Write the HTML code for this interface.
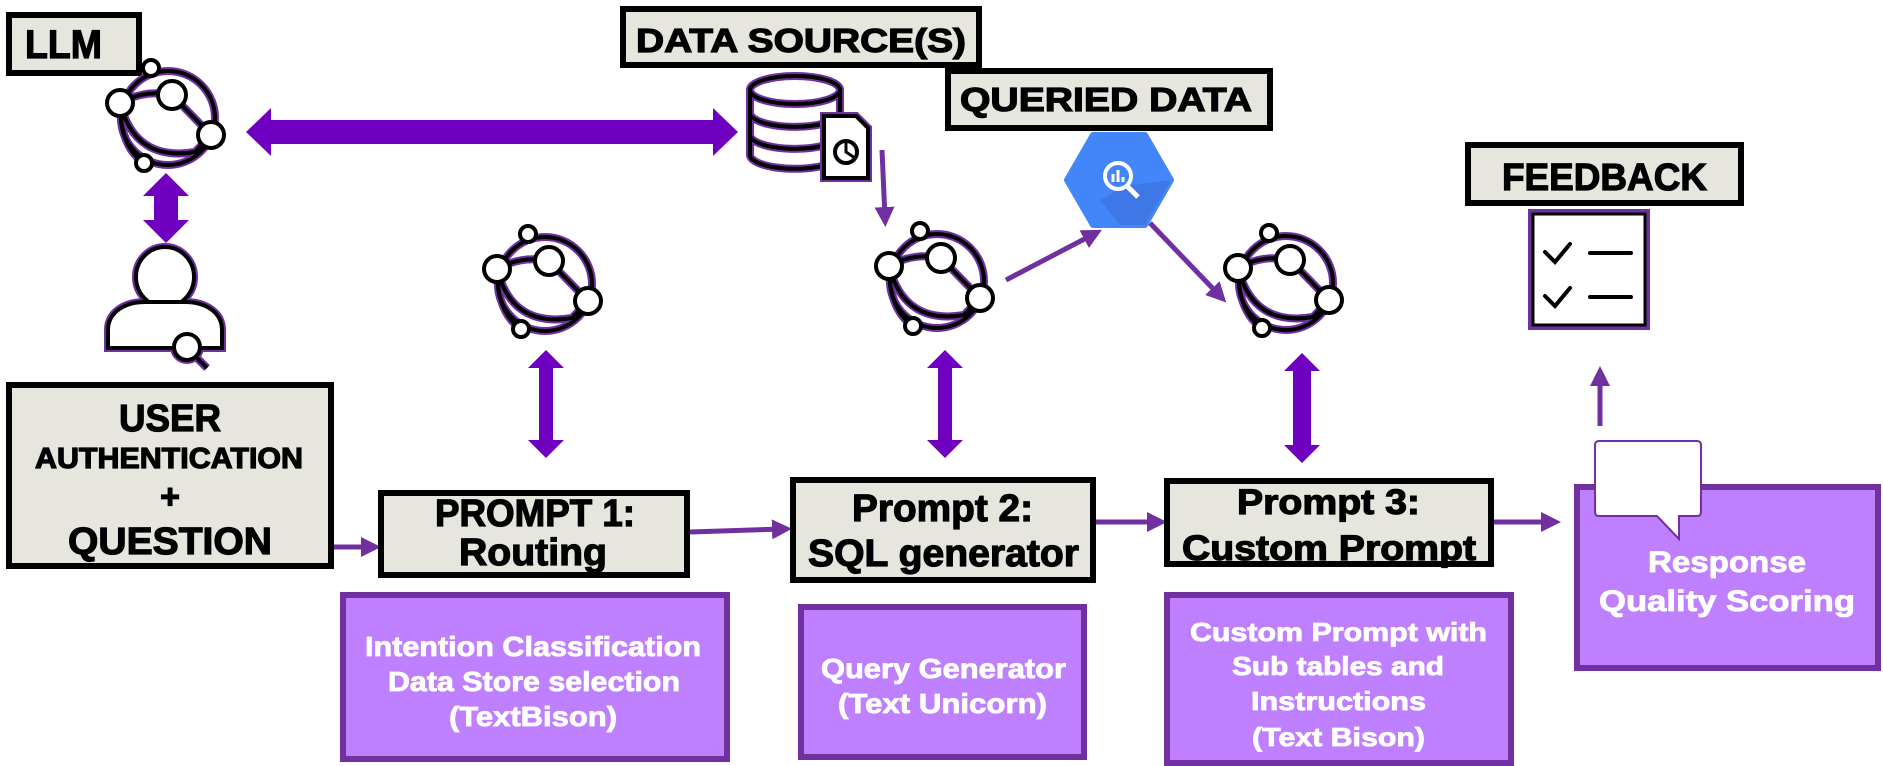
<!DOCTYPE html>
<html><head><meta charset="utf-8"><style>
html,body{margin:0;padding:0;background:#fff;}
svg{display:block;}
.c{font-family:"Liberation Sans",sans-serif;font-weight:bold;}
.k{stroke:#000;stroke-width:1.2;}
.w{stroke:#fff;stroke-width:0.8;}
</style></head><body>
<svg width="1883" height="766" viewBox="0 0 1883 766" xmlns="http://www.w3.org/2000/svg">
<defs>
<marker id="ah" markerWidth="4" markerHeight="4" refX="2.2" refY="2" orient="auto" markerUnits="strokeWidth">
<path d="M0,0 L4,2 L0,4 Z" fill="#7030a0"/></marker>
<g id="llm" fill="#fff" stroke-linecap="round">
<g stroke="#7030a0" stroke-width="8" fill="none">
<circle cx="3" cy="1" r="47"/>
<path d="M-45,-14 Q-20,-28 7,-22"/><path d="M7,-22 L46,18"/>
<path d="M-45,-14 Q-45,30 -21,46"/><path d="M-45,-14 Q-30,45 30,35 L46,18"/>
</g>
<g stroke="#000" stroke-width="4" fill="none">
<circle cx="3" cy="1" r="47"/>
<path d="M-45,-14 Q-20,-28 7,-22"/><path d="M7,-22 L46,18"/>
<path d="M-45,-14 Q-45,30 -21,46"/><path d="M-45,-14 Q-30,45 30,35 L46,18"/>
</g>
<g stroke="#000" stroke-width="4" fill="#fff">
<circle cx="-14" cy="-49" r="8"/><circle cx="-45" cy="-14" r="13"/>
<circle cx="7" cy="-22" r="14"/><circle cx="46" cy="18" r="13"/><circle cx="-21" cy="46" r="8"/>
</g>
</g>
</defs>

<rect x="9" y="15" width="130" height="58" fill="#e6e6df" stroke="#000" stroke-width="6"/>
<text class="c k" x="25" y="58" font-size="40" textLength="77" lengthAdjust="spacingAndGlyphs">LLM</text>

<rect x="623" y="9" width="356" height="56" fill="#e6e6df" stroke="#000" stroke-width="6"/>
<text class="c k" x="636" y="52" font-size="33" textLength="330" lengthAdjust="spacingAndGlyphs">DATA SOURCE(S)</text>

<rect x="948" y="71" width="322" height="57" fill="#e6e6df" stroke="#000" stroke-width="6"/>
<text class="c k" x="960" y="111" font-size="33" textLength="292" lengthAdjust="spacingAndGlyphs">QUERIED DATA</text>

<use href="#llm" transform="translate(165,117)"/>
<use href="#llm" transform="translate(542,283)"/>
<use href="#llm" transform="translate(934,280)"/>
<use href="#llm" transform="translate(1283,282)"/>

<polygon points="246,132 271,108 271,120 713,120 713,108 738,132 713,156 713,144 271,144 271,156" fill="#7000c0"/>

<polygon points="166,173 189,196 178,196 178,220 189,220 166,243 143,220 154,220 154,196 143,196" fill="#7000c0"/>
<polygon points="546,350 564,368 553,368 553,440 564,440 546,458 528,440 539,440 539,368 528,368" fill="#7000c0"/>
<polygon points="945,350 963,368 952,368 952,440 963,440 945,458 927,440 938,440 938,368 927,368" fill="#7000c0"/>
<polygon points="1302,353 1320,371 1311,371 1311,445 1320,445 1302,463 1284,445 1293,445 1293,371 1284,371" fill="#7000c0"/>

<g stroke="#7030a0" stroke-width="8" fill="none">
<ellipse cx="165" cy="277" rx="29" ry="30"/>
<path d="M108,348 V330 C108,312 125,302 145,302 L185,302 C205,302 222,312 222,330 V348 Z"/>
<circle cx="187" cy="347" r="13"/><path d="M196,357 L207,368"/>
</g>
<g stroke="#000" stroke-width="4" fill="#fff">
<ellipse cx="165" cy="277" rx="29" ry="30"/>
<path d="M108,348 V330 C108,312 125,302 145,302 L185,302 C205,302 222,312 222,330 V348 Z"/>
<circle cx="187" cy="347" r="13"/><path d="M196,357 L207,368" fill="none"/>
</g>

<g fill="none" stroke-linecap="round">
<g stroke="#7030a0" stroke-width="8">
<ellipse cx="795" cy="90" rx="45" ry="14"/>
<path d="M750,90 V155 A45,14 0 0 0 822,166"/><path d="M840,90 V112"/>
<path d="M750,112 A45,14 0 0 0 822,124"/><path d="M750,134 A45,14 0 0 0 822,146"/>
</g>
<g stroke="#000" stroke-width="4">
<ellipse cx="795" cy="90" rx="45" ry="14"/>
<path d="M750,90 V155 A45,14 0 0 0 822,166"/><path d="M840,90 V112"/>
<path d="M750,112 A45,14 0 0 0 822,124"/><path d="M750,134 A45,14 0 0 0 822,146"/>
</g>
<path d="M824,116 H856 L868,128 V178 H824 Z" fill="#fff" stroke="#7030a0" stroke-width="8"/>
<path d="M824,116 H856 L868,128 V178 H824 Z" fill="#fff" stroke="#000" stroke-width="4"/>
<circle cx="846" cy="152" r="11" stroke="#000" stroke-width="4"/>
<path d="M846,141 V152 L855,158" stroke="#000" stroke-width="3"/>
</g>

<polygon points="1067,180 1093,135 1145,135 1171,180 1145,225 1093,225" fill="#4386fa" stroke="#4386fa" stroke-width="6" stroke-linejoin="round"/>
<polygon points="1125,186 1171,180 1145,225 1120,225 1100,200" fill="#3a6fd8" opacity="0.6"/>
<circle cx="1118" cy="176" r="13" fill="none" stroke="#fff" stroke-width="4"/>
<path d="M1127,186 L1138,197" stroke="#fff" stroke-width="5"/>
<path d="M1113,174 V182 M1118,170 V182 M1123,177 V182" stroke="#fff" stroke-width="3"/>

<g stroke="#7030a0" stroke-width="5" fill="none" marker-end="url(#ah)">
<path d="M882,150 L885,218"/>
<path d="M1006,280 L1094,234"/>
<path d="M1150,223 L1220,296"/>
<path d="M334,547 L372,547"/>
<path d="M690,532 L783,529"/>
<path d="M1095,522 L1158,522"/>
<path d="M1494,522 L1552,522"/>
<path d="M1600,426 L1600,375"/>
</g>

<rect x="9" y="385" width="322" height="181" fill="#e6e6df" stroke="#000" stroke-width="6"/>
<text class="c k" x="119" y="431" font-size="38" textLength="102" lengthAdjust="spacingAndGlyphs">USER</text>
<text class="c k" x="35" y="468" font-size="29" textLength="268" lengthAdjust="spacingAndGlyphs">AUTHENTICATION</text>
<text class="c k" x="170" y="508" font-size="34" text-anchor="middle">+</text>
<text class="c k" x="68" y="554" font-size="38" textLength="204" lengthAdjust="spacingAndGlyphs">QUESTION</text>

<rect x="381" y="493" width="306" height="82" fill="#e6e6df" stroke="#000" stroke-width="6"/>
<text class="c k" x="435" y="526" font-size="38" textLength="200" lengthAdjust="spacingAndGlyphs">PROMPT 1:</text>
<text class="c k" x="459" y="565" font-size="38" textLength="148" lengthAdjust="spacingAndGlyphs">Routing</text>

<rect x="793" y="480" width="300" height="100" fill="#e6e6df" stroke="#000" stroke-width="6"/>
<text class="c k" x="852" y="521" font-size="38" textLength="181" lengthAdjust="spacingAndGlyphs">Prompt 2:</text>
<text class="c k" x="808" y="566" font-size="38" textLength="271" lengthAdjust="spacingAndGlyphs">SQL generator</text>

<rect x="1167" y="481" width="324" height="83" fill="#e6e6df" stroke="#000" stroke-width="6"/>
<text class="c k" x="1237" y="514" font-size="35" textLength="183" lengthAdjust="spacingAndGlyphs">Prompt 3:</text>
<text class="c k" x="1182" y="560" font-size="35" textLength="294" lengthAdjust="spacingAndGlyphs">Custom Prompt</text>

<g fill="#bf80ff" stroke="#7030a0" stroke-width="6">
<rect x="343" y="595" width="384" height="164"/>
<rect x="801" y="607" width="283" height="150"/>
<rect x="1167" y="595" width="344" height="168"/>
<rect x="1577" y="487" width="301" height="181"/>
</g>
<g class="c w" fill="#fff">
<text x="365" y="656" font-size="28" textLength="336" lengthAdjust="spacingAndGlyphs">Intention Classification</text>
<text x="388" y="691" font-size="28" textLength="292" lengthAdjust="spacingAndGlyphs">Data Store selection</text>
<text x="449" y="726" font-size="28" textLength="168" lengthAdjust="spacingAndGlyphs">(TextBison)</text>
<text x="821" y="678" font-size="28" textLength="245" lengthAdjust="spacingAndGlyphs">Query Generator</text>
<text x="838" y="713" font-size="28" textLength="209" lengthAdjust="spacingAndGlyphs">(Text Unicorn)</text>
<text x="1190" y="641" font-size="26" textLength="297" lengthAdjust="spacingAndGlyphs">Custom Prompt with</text>
<text x="1232" y="675" font-size="26" textLength="212" lengthAdjust="spacingAndGlyphs">Sub tables and</text>
<text x="1251" y="710" font-size="26" textLength="175" lengthAdjust="spacingAndGlyphs">Instructions</text>
<text x="1252" y="746" font-size="26" textLength="173" lengthAdjust="spacingAndGlyphs">(Text Bison)</text>
<text x="1648" y="572" font-size="30" textLength="158" lengthAdjust="spacingAndGlyphs">Response</text>
<text x="1599" y="611" font-size="30" textLength="256" lengthAdjust="spacingAndGlyphs">Quality Scoring</text>
</g>

<path d="M1599,441 H1697 Q1701,441 1701,445 V512 Q1701,516 1697,516 H1679 V539 L1657,516 H1599 Q1595,516 1595,512 V445 Q1595,441 1599,441 Z" fill="#fff" stroke="#7030a0" stroke-width="2"/>

<rect x="1468" y="145" width="273" height="58" fill="#e6e6df" stroke="#000" stroke-width="6"/>
<text class="c k" x="1502" y="190" font-size="38" textLength="205" lengthAdjust="spacingAndGlyphs">FEEDBACK</text>
<rect x="1531" y="212" width="116" height="115" fill="#fff" stroke="#7030a0" stroke-width="6"/>
<rect x="1533" y="214" width="112" height="111" fill="#fff" stroke="#000" stroke-width="3"/>
<g stroke="#000" stroke-width="4" fill="none" stroke-linecap="round">
<path d="M1545,252 L1555,262 L1570,244"/><path d="M1590,253 H1631"/>
<path d="M1545,296 L1555,306 L1570,288"/><path d="M1590,297 H1631"/>
</g>
</svg>
</body></html>
